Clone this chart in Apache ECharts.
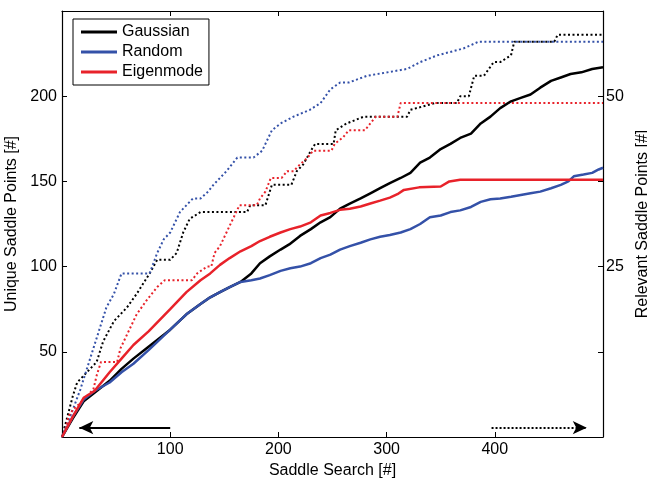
<!DOCTYPE html>
<html>
<head>
<meta charset="utf-8">
<script src="https://cdn.jsdelivr.net/npm/echarts@6/dist/echarts.min.js"></script>
<style>
html,body{margin:0;padding:0;background:#fff;}
#chart{width:647px;height:478px;}
</style>
</head>
<body>
<div id="chart"></div>
<script>
// ---- data ----
const seriesNames = ['Gaussian', 'Random', 'Eigenmode'];
const xTicks = [100, 200, 300, 400];

// Unique saddle points (left axis), [search, count]
const gaussianUnique = [[0,0],[10,11],[20,21],[30,26],[44,33],[55,40],[66,46],[80,53],[100,63],[115,72],[128,78],[137,82],[146,85],[155,88],[165,91],[175,96],[183,102],[192,106],[202,110],[210,113],[220,118],[230,122],[239,126],[248,129],[257,134],[266,137],[276,140],[285,143],[294,146],[303,149],[313,152],[322,155],[331,161],[340,164],[350,169],[359,172],[368,175.5],[378,178],[387,184],[396,188],[405,193],[415,197],[424,199],[433,201],[442,205],[452,209],[461,211],[470,213],[480,214],[490,216],[500,217]];
const randomUnique = [[0,0],[10,12],[20,22],[30,27],[44,32],[55,38],[66,43],[80,51],[100,63],[115,72],[128,78],[137,82],[146,85],[155,88],[165,91],[175,92],[183,93],[192,95],[202,97.5],[211,99],[220,100],[230,102],[239,105],[248,107],[257,110],[266,112],[276,114],[285,116],[294,117.5],[303,118.5],[313,120],[322,122],[331,125],[340,129],[350,130],[359,132],[368,133],[378,135],[387,138],[396,139.5],[405,140],[415,141],[424,142],[433,143],[442,144],[452,146],[461,148],[468,150],[473,153],[482,154],[490,155],[496,157],[500,158]];
const eigenmodeUnique = [[0,0],[10,12],[20,23],[30,27],[44,38],[55,46],[66,54],[80,62],[100,75],[115,85],[128,92],[137,96],[146,101],[155,105],[165,109],[175,112],[183,115],[192,117.5],[202,120],[211,122],[220,123.5],[230,126],[239,130],[248,131.5],[257,133.3],[266,134],[276,135.3],[285,137],[294,138.7],[303,140.5],[310,142.5],[316,145],[330,146.5],[350,147],[358,150],[368,151],[500,151]];

// Relevant saddle points (right axis), [search, count]
const gaussianRelevant = [[0,0],[5,3],[10,6],[14,8],[20,9],[26,10],[32,11],[38,14],[48,17],[60,19],[69,21],[81,24],[88,26],[100,26],[106,27],[112,30],[118,32],[128,33],[171,33],[174,34],[188,34],[190,35],[194,37],[212,37],[217,39],[223,40],[230,42],[234,43],[251,43],[253,45],[263,46],[279,47],[319,47],[322,48],[345,49],[365,49],[368,50],[376,50],[381,53],[390,53],[399,55],[405,55],[415,56],[418,58],[455,58],[458,59],[500,59]];
const randomRelevant = [[0,0],[5,2],[10,4],[17,7],[23,10],[29,13],[35,16],[41,19],[48,21],[55,24],[81,24],[88,27],[94,29],[100,30],[109,33],[121,35],[128,35],[135,36],[140,37],[152,39],[162,41],[177,41],[185,42],[194,45],[202,46],[214,47],[229,48],[239,49],[248,51],[257,52],[265,52],[282,53],[319,54],[331,55],[347,56],[371,57],[385,58],[500,58]];
const eigenmodeRelevant = [[0,0],[3,1],[6,3],[10,4],[17,5],[29,7],[32,9],[36,11],[51,11],[54,13],[60,15],[69,18],[78,20],[88,22],[95,23],[120,23],[125,24],[134,25],[138,25],[141,27],[146,28],[152,30],[158,32],[164,34],[180,34],[183,35],[188,36],[193,38],[203,38],[208,39],[214,39],[220,40],[227,41],[232,42],[249,42],[252,43],[260,44],[265,45],[280,45],[285,46],[290,47],[310,47],[313,49],[500,49]];

// Arrow annotations: [x start, x end, left-axis level]
const leftArrow = [100, 16, 5.5];
const rightArrow = [397, 485, 5.5];

// ---- chart ----
const FONT = "'Liberation Sans', Arial, Helvetica, sans-serif";
const colors = ['#000000', '#3451a8', '#e8222a'];
const chart = echarts.init(document.getElementById('chart'), null, {renderer: 'canvas'});

function solid(name, data, color) {
  return {name, type: 'line', data, xAxisIndex: 0, yAxisIndex: 0, showSymbol: false, symbol: 'none',
    color, lineStyle: {color, width: 2.5, type: 'solid'}, emphasis: {disabled: true}, z: 3, animation: false};
}
function dotted(name, data, color) {
  return {name, type: 'line', data, xAxisIndex: 0, yAxisIndex: 1, showSymbol: false, symbol: 'none',
    color, lineStyle: {color, width: 2, type: [2, 2.5]}, emphasis: {disabled: true}, z: 2, animation: false};
}
const axisLineStyle = {show: true, onZero: false, lineStyle: {color: '#000', width: 1.2}};
const tickStyle = {show: true, inside: true, length: 5, lineStyle: {color: '#000', width: 1}};

const option = {
  backgroundColor: '#fff',
  animation: false,
  textStyle: {fontFamily: FONT},
  grid: {left: 62, right: 44, top: 11, bottom: 41, containLabel: false, outerBoundsMode: 'none'},
  legend: {
    data: seriesNames, orient: 'vertical', left: 73, top: 19,
    icon: 'rect', itemWidth: 36, itemHeight: 3, itemGap: 4,
    padding: [5, 6, 5, 8], borderColor: '#000', borderWidth: 1, backgroundColor: '#fff',
    textStyle: {fontSize: 16, color: '#000', fontFamily: FONT}, selectedMode: false
  },
  xAxis: [
    {type: 'value', position: 'bottom', min: 0, max: 500, interval: 100,
     name: 'Saddle Search [#]', nameLocation: 'middle', nameGap: 22,
     nameTextStyle: {fontSize: 16, color: '#000', fontFamily: FONT},
     axisLine: axisLineStyle, axisTick: tickStyle, splitLine: {show: false},
     axisLabel: {fontSize: 16, color: '#000', margin: 5, fontFamily: FONT,
       formatter: v => xTicks.includes(v) ? String(v) : ''}},
    {type: 'value', position: 'top', min: 0, max: 500, interval: 100,
     axisLine: axisLineStyle, axisTick: tickStyle, splitLine: {show: false}, axisLabel: {show: false}}
  ],
  yAxis: [
    {type: 'value', position: 'left', min: 0, max: 250, interval: 50,
     name: 'Unique Saddle Points [#]', nameLocation: 'middle', nameGap: 33, nameRotate: 90,
     nameTextStyle: {fontSize: 16, color: '#000', fontFamily: FONT},
     axisLine: axisLineStyle, axisTick: tickStyle, splitLine: {show: false},
     axisLabel: {fontSize: 16, color: '#000', margin: 5, fontFamily: FONT,
       formatter: v => (v === 0 || v === 250) ? '' : String(v)}},
    {type: 'value', position: 'right', min: 0, max: 62.5, interval: 12.5,
     name: 'Relevant Saddle Points [#]', nameLocation: 'middle', nameGap: 27, nameRotate: 90,
     nameTextStyle: {fontSize: 16, color: '#000', fontFamily: FONT},
     axisLine: axisLineStyle, axisTick: tickStyle, splitLine: {show: false},
     axisLabel: {fontSize: 16, color: '#000', margin: 3, fontFamily: FONT,
       formatter: v => (v === 25 || v === 50) ? String(v) : ''}}
  ],
  series: [
    dotted('Gaussian relevant', gaussianRelevant, colors[0]),
    dotted('Random relevant', randomRelevant, colors[1]),
    dotted('Eigenmode relevant', eigenmodeRelevant, colors[2]),
    solid(seriesNames[0], gaussianUnique, colors[0]),
    solid(seriesNames[1], randomUnique, colors[1]),
    solid(seriesNames[2], eigenmodeUnique, colors[2]),
    {type: 'line', data: [], xAxisIndex: 0, yAxisIndex: 0, silent: true, animation: false,
     markLine: {silent: true, symbol: ['none', 'arrow'], symbolSize: [10, 14], label: {show: false},
       emphasis: {disabled: true}, animation: false,
       data: [
         [{coord: [leftArrow[0], leftArrow[2]], lineStyle: {color: '#000', width: 2, type: 'solid'}, itemStyle: {color: '#000'}},
          {coord: [leftArrow[1], leftArrow[2]]}],
         [{coord: [rightArrow[0], rightArrow[2]], lineStyle: {color: '#000', width: 2, type: [2, 2]}, itemStyle: {color: '#000'}},
          {coord: [rightArrow[1], rightArrow[2]]}]
       ]}}
  ]
};
chart.setOption(option);
</script>
</body>
</html>
